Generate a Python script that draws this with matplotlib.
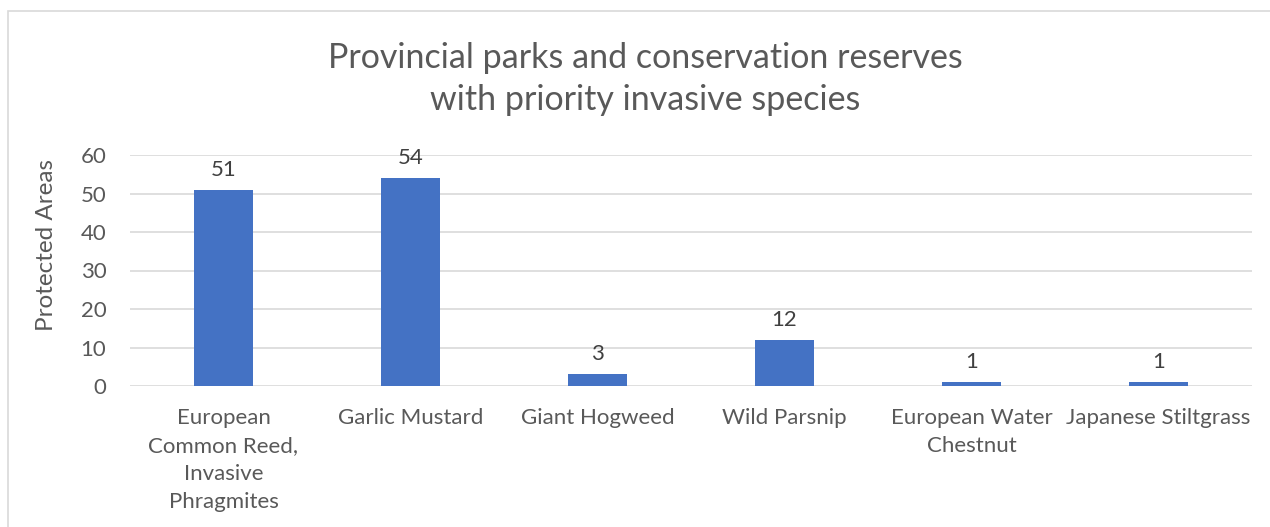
import matplotlib
matplotlib.use("Agg")
import matplotlib.pyplot as plt
from matplotlib.patches import Rectangle

species = ["European\nCommon Reed,\nInvasive\nPhragmites", "Garlic Mustard", "Giant Hogweed",
           "Wild Parsnip", "European Water\nChestnut", "Japanese Stiltgrass"]
areas = [51, 54, 3, 12, 1, 1]
yticks = [0, 10, 20, 30, 40, 50, 60]

text_col = "#595959"
plt.rcParams["font.family"] = ["Lato", "DejaVu Sans"]

fig = plt.figure(figsize=(12.7, 5.27), dpi=100)
# chart border (only top/left visible in the reference)
fig.patches.append(Rectangle((8 / 1270, -0.1), 1.2, (527 - 11) / 527 + 0.1,
                             transform=fig.transFigure, fill=False,
                             edgecolor="#D9D9D9", linewidth=1.2))

ax = fig.add_axes([130 / 1270, 1 - 386 / 527, (1252 - 130) / 1270, (386 - 155) / 527])
x = range(len(species))
bars = ax.bar(x, areas, width=0.315, color="#4472C4", zorder=3)
for b, v in zip(bars, areas):
    ax.text(b.get_x() + b.get_width() / 2, v + 2.6, str(v), ha="center", va="bottom",
            fontsize=16, color="#404040")

ax.set_xlim(-0.5, len(species) - 0.5)
ax.set_ylim(0, 60)
ax.set_yticks(yticks)
ax.set_xticks(list(x))
ax.set_xticklabels(species, fontsize=16, color=text_col, linespacing=1.5, va="top")
ax.tick_params(axis="y", labelsize=16, labelcolor=text_col, length=0, pad=17)
ax.tick_params(axis="x", length=0, pad=16)
ax.grid(axis="y", color="#D9D9D9", linewidth=1.2, zorder=0)
for s in ax.spines.values():
    s.set_visible(False)
ax.set_ylabel("Protected Areas", fontsize=17.5, color=text_col)
ax.yaxis.set_label_coords(-(130 - 57) / 1122, (386 - 245) / 231)

fig.text(645 / 1270, 1 - 79 / 527, "Provincial parks and conservation reserves\nwith priority invasive species",
         ha="center", va="center", fontsize=24.5, color=text_col, linespacing=1.38)

fig.savefig("out.png", dpi=100)
